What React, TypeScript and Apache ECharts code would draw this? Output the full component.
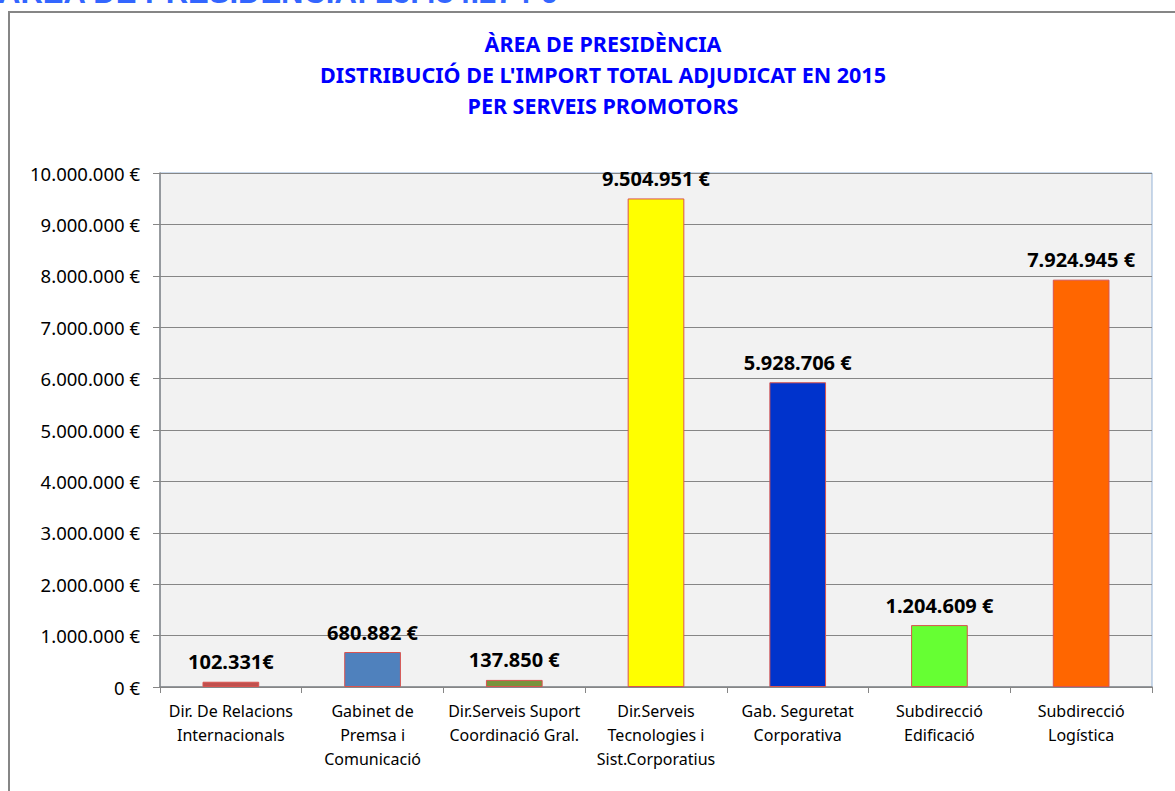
import React, { useEffect, useRef } from "react";
import * as echarts from "echarts";

const categories = [
  "Dir. De Relacions\nInternacionals",
  "Gabinet de\nPremsa i\nComunicació",
  "Dir.Serveis Suport\nCoordinació Gral.",
  "Dir.Serveis\nTecnologies i\nSist.Corporatius",
  "Gab. Seguretat\nCorporativa",
  "Subdirecció\nEdificació",
  "Subdirecció\nLogística",
];
const values = [102331, 680882, 137850, 9504951, 5928706, 1204609, 7924945];
const valueLabels = [
  "102.331€",
  "680.882 €",
  "137.850 €",
  "9.504.951 €",
  "5.928.706 €",
  "1.204.609 €",
  "7.924.945 €",
];
const barColors = ["#C0504D", "#4F81BD", "#77933C", "#FFFF00", "#0033CC", "#66FF33", "#FF6600"];
const titleLines = [
  "ÀREA DE PRESIDÈNCIA",
  "DISTRIBUCIÓ DE L'IMPORT TOTAL ADJUDICAT EN 2015",
  "PER SERVEIS PROMOTORS",
];
const headerText = "ÀREA DE PRESIDÈNCIA: 25.484.274 €";

function fmt(v: number): string {
  return String(Math.round(v)).replace(/\B(?=(\d{3})+(?!\d))/g, ".") + " €";
}

export default function App() {
  const ref = useRef<HTMLDivElement>(null);
  useEffect(() => {
    if (!ref.current) return;
    const chart = echarts.init(ref.current, null, { renderer: "svg" });
    const font = "'Noto Sans', sans-serif";
    chart.setOption({
      animation: false,
      backgroundColor: "#FFFFFF",
      title: {
        text: titleLines.join("\n"),
        left: 598,
        textAlign: "center",
        top: 23,
        textStyle: {
          fontFamily: font,
          fontWeight: "bold",
          fontSize: 21.5,
          color: "#0000FF",
          lineHeight: 31,
        },
      },
      graphic: [
        {
          type: "text",
          left: -2,
          top: -23,
          style: {
            text: headerText,
            font: "bold 31px 'Liberation Sans', Arial, sans-serif",
            fill: "#3366FF",
          },
        },
        {
          type: "polyline",
          shape: { points: [[9, 791], [9, 12], [1175, 12]] },
          style: { stroke: "#868686", lineWidth: 2, fill: null },
        },
      ],
      grid: {
        left: 160,
        right: 23,
        top: 173,
        bottom: 104,
        show: true,
        backgroundColor: "#F2F2F2",
        borderColor: "#95B3D7",
        borderWidth: 1,
      },
      xAxis: {
        type: "category",
        data: categories,
        axisLine: { show: true, lineStyle: { color: "#868686", width: 1.5 } },
        axisTick: { show: true, length: 6, lineStyle: { color: "#868686" } },
        axisLabel: {
          fontFamily: font,
          fontSize: 16,
          color: "#000000",
          lineHeight: 24,
          margin: 12,
          interval: 0,
        },
      },
      yAxis: {
        type: "value",
        min: 0,
        max: 10000000,
        interval: 1000000,
        axisLine: { show: true, lineStyle: { color: "#868686", width: 1.5 } },
        axisTick: { show: true, length: 7, lineStyle: { color: "#868686" } },
        splitLine: { show: true, lineStyle: { color: "#868686", width: 1 } },
        axisLabel: {
          fontFamily: font,
          fontSize: 18.5,
          color: "#000000",
          margin: 20,
          formatter: (v: number) => fmt(v),
        },
      },
      series: [
        {
          type: "bar",
          barWidth: "40%",
          data: values.map((v, i) => ({
            value: v,
            itemStyle: { color: barColors[i], borderColor: "#D9534F", borderWidth: 1 },
            label: { formatter: valueLabels[i] },
          })),
          label: {
            show: true,
            position: "top",
            distance: 10,
            fontFamily: font,
            fontWeight: "bold",
            fontSize: 20,
            color: "#000000",
          },
        },
      ],
    });
    return () => chart.dispose();
  }, []);
  return (
    <div
      ref={ref}
      style={{ position: "fixed", left: 0, top: 0, width: 1175, height: 791 }}
    />
  );
}
